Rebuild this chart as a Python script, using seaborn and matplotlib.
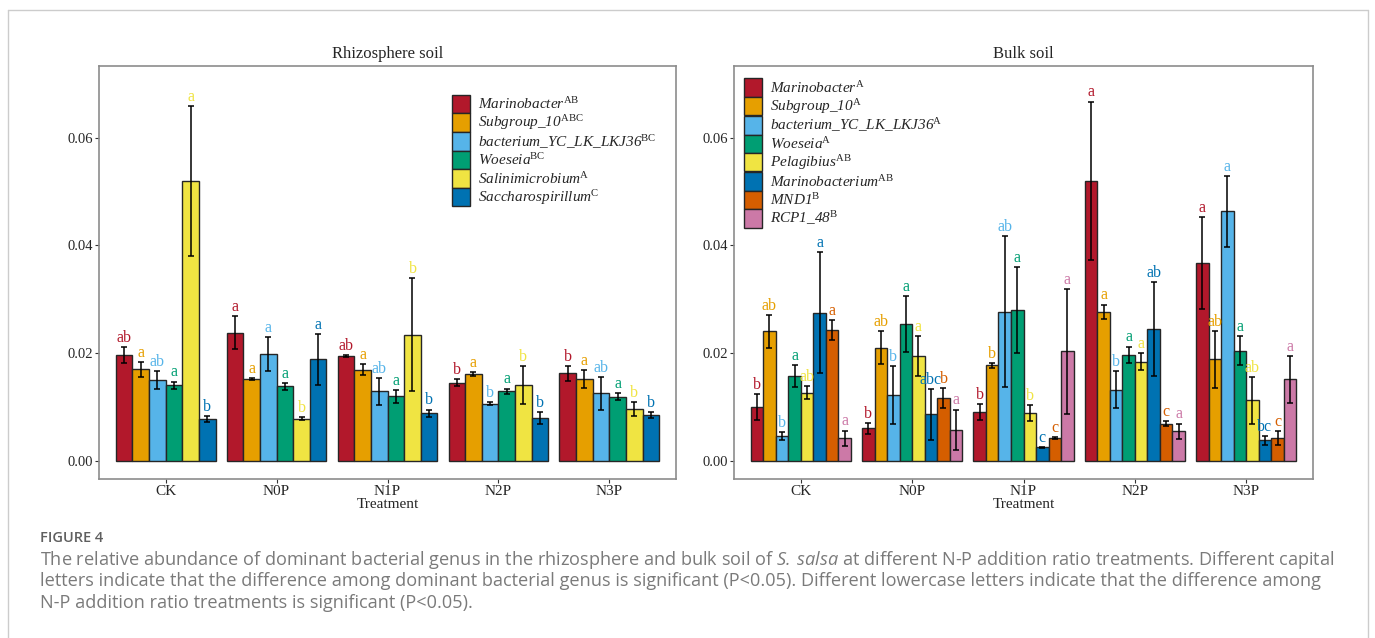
# Relative abundance of dominant bacterial genera, rhizosphere vs bulk soil

import numpy as np
import pandas as pd
import matplotlib.pyplot as plt
import seaborn as sns
from matplotlib.patches import Patch
from matplotlib.lines import Line2D

treatments = ["CK", "N0P", "N1P", "N2P", "N3P"]

# rhizosphere soil
rhizo_genera = ["Marinobacter", "Subgroup_10", "bacterium_YC_LK_LKJ36",
                "Woeseia", "Salinimicrobium", "Saccharospirillum"]
rhizo_groups = ["AB", "ABC", "BC", "BC", "A", "C"]
rhizo_mean = [
    [0.0196, 0.0238, 0.0195, 0.0145, 0.0162],
    [0.0170, 0.0152, 0.0169, 0.0161, 0.0152],
    [0.0150, 0.0198, 0.0129, 0.0106, 0.0125],
    [0.0140, 0.0138, 0.0120, 0.0129, 0.0119],
    [0.0519, 0.0078, 0.0234, 0.0140, 0.0096],
    [0.0077, 0.0188, 0.0088, 0.0080, 0.0085],
]
rhizo_err = [
    [0.0015, 0.0031, 0.0002, 0.0007, 0.0014],
    [0.0014, 0.0002, 0.0010, 0.0004, 0.0017],
    [0.0017, 0.0031, 0.0025, 0.0003, 0.0031],
    [0.0007, 0.0006, 0.0012, 0.0005, 0.0006],
    [0.0139, 0.0003, 0.0105, 0.0035, 0.0013],
    [0.0006, 0.0047, 0.0007, 0.0011, 0.0006],
]
rhizo_letters = [
    ["ab", "a", "ab", "b", "b"],
    ["a", "a", "a", "a", "a"],
    ["ab", "a", "ab", "b", "ab"],
    ["a", "a", "a", "a", "a"],
    ["a", "b", "b", "b", "b"],
    ["b", "a", "b", "b", "b"],
]

# bulk soil
bulk_genera = ["Marinobacter", "Subgroup_10", "bacterium_YC_LK_LKJ36", "Woeseia",
               "Pelagibius", "Marinobacterium", "MND1", "RCP1_48"]
bulk_groups = ["A", "A", "A", "A", "AB", "AB", "B", "B"]
bulk_mean = [
    [0.0099, 0.0060, 0.0090, 0.0520, 0.0367],
    [0.0240, 0.0210, 0.0177, 0.0277, 0.0188],
    [0.0046, 0.0122, 0.0277, 0.0132, 0.0463],
    [0.0157, 0.0254, 0.0280, 0.0197, 0.0204],
    [0.0126, 0.0194, 0.0089, 0.0184, 0.0112],
    [0.0275, 0.0086, 0.0025, 0.0244, 0.0038],
    [0.0243, 0.0116, 0.0042, 0.0069, 0.0042],
    [0.0042, 0.0057, 0.0203, 0.0055, 0.0151],
]
bulk_err = [
    [0.0024, 0.0010, 0.0015, 0.0147, 0.0085],
    [0.0030, 0.0030, 0.0005, 0.0013, 0.0053],
    [0.0008, 0.0054, 0.0140, 0.0034, 0.0066],
    [0.0020, 0.0052, 0.0080, 0.0015, 0.0027],
    [0.0012, 0.0037, 0.0015, 0.0016, 0.0043],
    [0.0112, 0.0047, 0.0001, 0.0087, 0.0008],
    [0.0019, 0.0019, 0.0002, 0.0005, 0.0013],
    [0.0014, 0.0038, 0.0116, 0.0014, 0.0043],
]
bulk_letters = [
    ["b", "b", "b", "a", "a"],
    ["ab", "ab", "b", "a", "ab"],
    ["b", "b", "ab", "b", "a"],
    ["a", "a", "a", "a", "a"],
    ["ab", "a", "b", "a", "ab"],
    ["a", "abc", "c", "ab", "bc"],
    ["a", "b", "c", "c", "c"],
    ["a", "a", "a", "a", "a"],
]

rhizo_colors = ["#B2182B", "#E69F00", "#56B4E9", "#009E73", "#F0E442", "#0072B2"]
bulk_colors = rhizo_colors + ["#D55E00", "#CC79A7"]

sns.set_style("ticks")
plt.rcParams["font.family"] = ["Liberation Serif", "DejaVu Serif"]
plt.rcParams["mathtext.fontset"] = "custom"
plt.rcParams["mathtext.rm"] = "Liberation Serif"
plt.rcParams["mathtext.it"] = "Liberation Serif:italic"
plt.rcParams["mathtext.sf"] = "Open Sans:italic"


def draw_panel(ax, genera, groups, mean, err, letters, colors, title, legend_xy):
    df = pd.DataFrame({
        "Treatment": np.tile(treatments, len(genera)),
        "Genus": np.repeat(genera, len(treatments)),
        "Abundance": np.ravel(mean),
    })
    sns.barplot(data=df, x="Treatment", y="Abundance", hue="Genus",
                order=treatments, hue_order=genera, palette=colors,
                saturation=1, width=0.9, errorbar=None, edgecolor="#262626",
                linewidth=1, legend=False, ax=ax)

    # error bars and significance letters on each bar
    bar_sets = list(ax.containers)
    for i, bars in enumerate(bar_sets):
        for j, bar in enumerate(bars):
            x = bar.get_x() + bar.get_width() / 2
            y = bar.get_height()
            ax.errorbar(x, y, yerr=err[i][j], fmt="none", ecolor="black",
                        elinewidth=1.1, capsize=2.2, capthick=1.1, zorder=3)
            ax.text(x, y + err[i][j] + 0.0002, letters[i][j], ha="center",
                    va="bottom", color=colors[i], fontsize=11.5)

    # italic genus names with roman superscript group letters
    handles = [Patch(facecolor=c, edgecolor="#262626", linewidth=1) for c in colors]
    labels = [g + r"$^{\mathrm{%s}}$" % s for g, s in zip(genera, groups)]
    ax.legend(handles, labels, loc="upper left", bbox_to_anchor=legend_xy,
              frameon=False, borderpad=0, borderaxespad=0, labelspacing=0,
              handlelength=1.18, handleheight=1.48, handletextpad=0.5,
              prop={"family": "Liberation Serif", "style": "italic", "size": 11})

    ax.set_xlim(-0.6, 4.6)
    ax.set_ylim(-0.0034, 0.0733)
    ax.set_yticks([0, 0.02, 0.04, 0.06])
    ax.set_yticklabels(["0.00", "0.02", "0.04", "0.06"])
    ax.set_title(title, fontsize=12, pad=6)
    ax.set_xlabel("Treatment", fontsize=11, labelpad=0)
    ax.set_ylabel("")
    ax.tick_params(axis="both", length=3, width=0.8, color="#333333", pad=1.5)
    ax.tick_params(axis="x", labelsize=11)
    ax.tick_params(axis="y", labelsize=10.5)
    for sp in ax.spines.values():
        sp.set_visible(True)
        sp.set_color("#8c8c8c")
        sp.set_linewidth(1.2)


fig = plt.figure(figsize=(13.75, 6.38), dpi=100)
ax1 = fig.add_axes([99 / 1375, 1 - 479 / 638, 577 / 1375, 413 / 638])
ax2 = fig.add_axes([734 / 1375, 1 - 479 / 638, 579 / 1375, 413 / 638])

draw_panel(ax1, rhizo_genera, rhizo_groups, rhizo_mean, rhizo_err, rhizo_letters,
           rhizo_colors, "Rhizosphere soil", (0.612, 0.9305))
draw_panel(ax2, bulk_genera, bulk_groups, bulk_mean, bulk_err, bulk_letters,
           bulk_colors, "Bulk soil", (0.0173, 0.970))

# caption below the panels
fig.text(40 / 1375, 1 - 538 / 638, "FIGURE 4", fontsize=10.5, color="#5f5f5f",
         family="Open Sans", fontweight="semibold", va="center")
caption = [
    r"The relative abundance of dominant bacterial genus in the rhizosphere and bulk soil of "
    r"$\mathsf{S.\ salsa}$ at different N-P addition ratio treatments. Different capital",
    "letters indicate that the difference among dominant bacterial genus is significant "
    "(P<0.05). Different lowercase letters indicate that the difference among",
    "N-P addition ratio treatments is significant (P<0.05).",
]
for k, line in enumerate(caption):
    fig.text(40 / 1375, 1 - (560 + 21.5 * k) / 638, line, fontsize=13.1,
             color="#7a7a7a", family="Open Sans", va="center")

# light frame around the figure
frame = dict(transform=fig.transFigure, color="#cccccc", lw=1)
fig.add_artist(Line2D([8 / 1375, 1368 / 1375], [1 - 10 / 638] * 2, **frame))
fig.add_artist(Line2D([8 / 1375] * 2, [0, 1 - 10 / 638], **frame))
fig.add_artist(Line2D([1368 / 1375] * 2, [0, 1 - 10 / 638], **frame))

fig.savefig("out.png", dpi=100)
